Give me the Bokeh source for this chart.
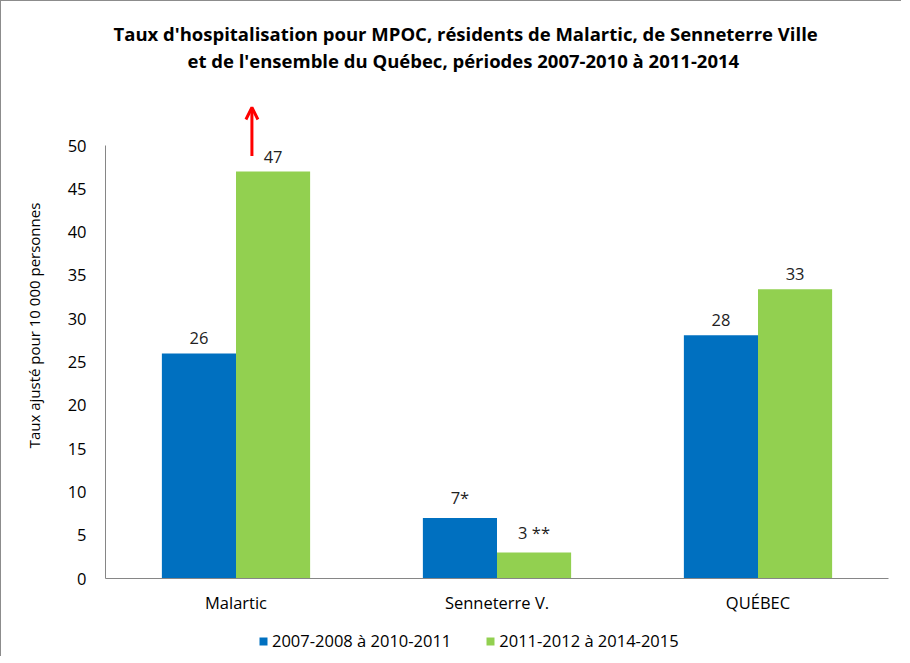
from bokeh.plotting import figure
from bokeh.layouts import column
from bokeh.models import (Range1d, FixedTicker, Legend, LegendItem, Arrow, OpenHead,
                          Title, ColumnDataSource)
from bokeh.embed import file_html
from bokeh.resources import INLINE
from bokeh.core.properties import value

categories = ["Malartic", "Senneterre V.", "QUÉBEC"]
series_names = ["2007-2008 à 2010-2011", "2011-2012 à 2014-2015"]
values_2007 = [26, 7, 28.1]
values_2011 = [47, 3, 33.4]
labels_2007 = ["26", "7*", "28"]
labels_2011 = ["47", "3 **", "33"]
colors = ["#0070C0", "#92D050"]
y_ticks = [0, 5, 10, 15, 20, 25, 30, 35, 40, 45, 50]
title_lines = ["Taux d'hospitalisation pour MPOC, résidents de Malartic, de Senneterre Ville",
               "et de l'ensemble du Québec, périodes 2007-2010 à 2011-2014"]
y_label = "Taux ajusté pour 10 000 personnes"

FONT = "Open Sans"
FS = "16.5px"
AX = "#868686"
BAR_W = 0.284

n = len(categories)
centers = [i + 0.5 for i in range(n)]
x1 = [c - BAR_W / 2 for c in centers]
x2 = [c + BAR_W / 2 for c in centers]

p = figure(width=900, height=620, output_backend="svg", toolbar_location=None,
           x_range=Range1d(0, n), y_range=Range1d(0, 58.44),
           min_border_left=104, min_border_right=13, min_border_top=71, min_border_bottom=43)
p.outline_line_color = None
p.grid.visible = False

t2 = Title(text=title_lines[1], align="left", text_font=FONT, text_font_size="18.5px",
           text_font_style="bold", text_color="#000000", offset=82, standoff=0)
t1 = Title(text=title_lines[0], align="left", text_font=FONT, text_font_size="18.5px",
           text_font_style="bold", text_color="#000000", offset=8, standoff=0)
p.add_layout(t2, "above")
p.add_layout(t1, "above")

s1 = ColumnDataSource(dict(x=x1, top=values_2007, lab=labels_2007))
s2 = ColumnDataSource(dict(x=x2, top=values_2011, lab=labels_2011))
r1 = p.vbar(x="x", top="top", width=BAR_W, source=s1, fill_color=colors[0], line_color=None)
r2 = p.vbar(x="x", top="top", width=BAR_W, source=s2, fill_color=colors[1], line_color=None)
for s in (s1, s2):
    p.text(x="x", y="top", text="lab", source=s, text_align="center", text_baseline="bottom",
           y_offset=-9, text_font=value(FONT), text_font_size=FS, text_color="#222222")

# arrow above Malartic 2011 bar
arrow_x = [0.561]
arrow_y = [48.8, 54.4]
p.add_layout(Arrow(x_start=arrow_x[0], y_start=arrow_y[0], x_end=arrow_x[0], y_end=arrow_y[1],
                   line_color="#FF0000", line_width=3,
                   end=OpenHead(size=12, line_color="#FF0000", line_width=3)))

# axes
p.yaxis.ticker = FixedTicker(ticks=y_ticks)
p.yaxis.bounds = (0, 50)
p.yaxis.axis_label = y_label
p.yaxis.axis_label_text_font = FONT
p.yaxis.axis_label_text_font_size = "15px"
p.yaxis.axis_label_text_font_style = "normal"
p.yaxis.axis_label_standoff = 21
p.yaxis.major_label_text_font = FONT
p.yaxis.major_label_text_font_size = FS
p.yaxis.major_label_standoff = 14
p.yaxis.major_tick_out = 5
p.yaxis.major_tick_in = 0
p.yaxis.minor_tick_line_color = None

p.xaxis.ticker = FixedTicker(ticks=centers, minor_ticks=list(range(n + 1)))
p.xaxis.major_label_overrides = {c: cat for c, cat in zip(centers, categories)}
p.xaxis.minor_tick_out = 5
p.xaxis.minor_tick_in = 0
p.xaxis.major_label_text_font = FONT
p.xaxis.major_label_text_font_size = FS
p.xaxis.major_label_standoff = 6
for ax in (p.xaxis, p.yaxis):
    ax.axis_line_color = AX
    ax.major_tick_line_color = AX if ax is p.yaxis else None
    ax.minor_tick_line_color = AX if ax is p.xaxis else None
    ax.major_label_text_color = "#000000"
    ax.axis_label_text_color = "#000000"

# legend in its own strip below the chart
lg = figure(width=900, height=35, output_backend="svg", toolbar_location=None,
            x_range=Range1d(0, 1), y_range=Range1d(0, 1),
            min_border=0, outline_line_color=None)
lg.axis.visible = False
lg.grid.visible = False
items = []
for name, col in zip(series_names, colors):
    rr = lg.vbar(x=[0], top=[0], width=0.001, fill_color=col, line_color=None)
    items.append(LegendItem(label=name, renderers=[rr]))
legend = Legend(items=items, orientation="horizontal", location=(153, 4),
                label_text_font=FONT, label_text_font_size=FS, label_text_color="#000000",
                glyph_width=10, glyph_height=10, label_standoff=4, spacing=34,
                padding=0, margin=0, border_line_color=None, background_fill_alpha=0)
lg.add_layout(legend, "center")

layout = column(p, lg, spacing=0,
                styles={"border-top": "1px solid #8c8c8c", "border-left": "1px solid #8c8c8c"})
open("out.html", "w").write(file_html(layout, INLINE))
